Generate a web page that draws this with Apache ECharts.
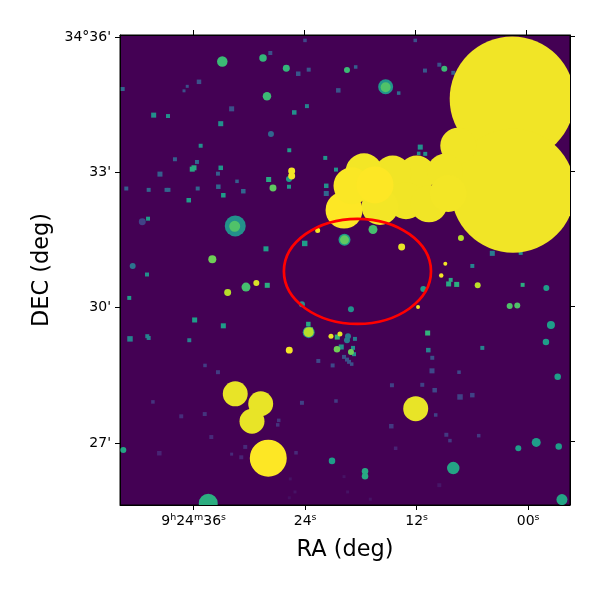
<!DOCTYPE html>
<html>
<head>
<meta charset="utf-8">
<style>html,body{margin:0;padding:0;background:#fff}#c{width:600px;height:600px}</style>
<script src="https://cdn.jsdelivr.net/npm/echarts@6/dist/echarts.min.js"></script>
</head>
<body>
<div id="c"></div>
<script>
// Each source: [RA seconds past 9h24m, Dec arcmin past 34deg, diameter arcsec, level 0..1]
const faintSources = [
[27.64,35.62,5.3,.25],[23.89,35.90,4.7,.22],[24.62,35.16,6,.27],[23.49,35.25,5.3,.27],[35.35,34.98,6,.25],
[36.62,34.88,4,.25],[36.97,34.78,4,.25],[43.60,34.82,5.3,.33],[20.29,34.79,6,.27],[31.82,34.38,6.7,.25],
[27.57,33.82,8,.33],[37.95,33.26,5.3,.3],[35.57,33.2,5.3,.33],[33.30,32.94,5.3,.3],[39.57,32.93,6.7,.3],
[31.24,32.77,4.7,.3],[43.21,32.61,5.3,.3],[40.79,32.58,5.3,.33],[38.86,32.58,5.3,.33],[38.65,32.58,5.3,.33],
[35.49,32.61,5.3,.33],[33.26,32.65,6,.33],[30.56,32.55,6,.33],[21.59,32.50,6.7,.33],[41.48,31.87,9.3,.2],
[42.52,30.89,8,.38],[19.67,28.87,5.3,.25],[19.35,28.81,5.3,.25],[19.13,28.76,5.3,.25],[18.84,28.71,4.7,.25],
[22.45,28.78,5.3,.22],[20.90,28.68,5.3,.22],[34.70,28.68,4.7,.18],[33.30,28.53,5.3,.18],[40.33,27.87,4.7,.15],
[37.27,27.55,5.3,.13],[34.73,27.6,5.3,.15],[34.02,27.09,5.3,.12],[39.64,26.73,6,.1],[31.82,26.71,4,.12],
[30.78,26.64,5.3,.1],[30.35,26.87,5.3,.12],[26.73,27.46,4.7,.15],[26.84,27.36,4.7,.15],[24.86,26.74,4.7,.12],
[24.22,27.85,5.3,.2],[20.54,27.89,4.7,.18],[19.67,26.21,4,.05],[25.48,26.16,4,.05],[24.97,25.87,4,.05],
[25.59,25.74,4,.04],[10.13,28.85,5.3,.25],[10.16,28.56,6.7,.22],[7.24,28.53,4.7,.22],[14.49,28.24,5.3,.2],
[11.21,28.25,5.3,.2],[9.87,28.13,6,.22],[7.13,27.98,7.3,.2],[5.80,28.02,6,.2],[9.76,27.58,4.7,.2],
[14.56,27.33,6,.17],[8.61,27.14,5.3,.17],[8.22,27.01,4.7,.17],[5.11,27.12,4.7,.17],[14.09,26.84,4.7,.1],
[9.37,26.02,5.3,.06],[19.28,25.87,4,.05],[16.83,25.71,4,.05],[18.41,35.31,4.7,.3],[11.97,35.90,4.7,.25],
[13.76,34.73,4.7,.35],[9.37,35.36,5.3,.25],[10.92,35.23,5.3,.28],[7.86,35.18,5.3,.3]
];
const tealSources = [
[23.68,34.44,5.3,.45],[25.05,34.30,6,.5],[40.25,34.24,6.7,.5],[38.70,34.22,5.3,.5],[33.0,34.05,6.7,.5],
[35.17,33.56,5.3,.5],[25.59,33.46,5.3,.55],[21.70,33.29,5.3,.52],[35.89,33.07,6.7,.6],[36.08,33.04,6.7,.6],
[33.0,33.07,6,.52],[20.54,33.03,5.3,.52],[25.62,32.82,8,.55],[27.82,32.81,6.7,.6],[25.62,32.65,5.3,.52],
[32.72,32.46,6,.55],[21.59,32.67,6,.5],[36.46,32.35,6,.55],[40.86,31.94,5.3,.55],[31.43,31.78,28,.5],
[23.92,31.39,7.3,.55],[28.11,31.27,6.7,.55],[19.62,31.47,16,.55],[40.97,30.70,5.3,.5],[42.89,30.18,5.3,.55],
[35.82,29.69,6.7,.55],[32.72,29.56,6.7,.55],[42.81,29.27,7.3,.45],[40.94,29.33,5.3,.45],[40.79,29.29,5.3,.45],
[36.40,29.24,5.3,.45],[24.22,30.04,8,.5],[23.53,29.6,6,.6],[23.49,29.42,16,.5],[19.24,29.33,8,.42],
[19.35,29.24,8,.42],[18.49,29.27,5.3,.42],[19.97,29.09,6.7,.5],[18.70,29.07,5.3,.5],[18.59,28.93,5.3,.5],
[18.92,29.93,8,.5],[43.53,26.8,8,.58],[20.97,26.56,8.7,.55],[34.35,25.62,25.3,.62],[8.14,30.58,5.3,.6],
[8.36,30.49,6.7,.6],[7.49,30.48,6.7,.62],[.36,30.47,5.3,.62],[-2.20,30.4,8,.55],[11.10,30.38,8,.55],
[-2.70,29.58,10.7,.55],[-2.16,29.2,8.7,.55],[4.72,29.07,5.3,.45],[10.56,29.02,6,.45],[-3.43,28.43,8.7,.55],
[.83,26.84,8,.55],[-1.11,26.97,12,.55],[-3.54,26.88,8.7,.55],[7.86,26.4,16.7,.58],[17.40,26.33,8.7,.6],
[17.40,26.22,8.7,.6],[-3.89,25.70,14.7,.58],[15.17,34.87,20,.52],[3.64,31.17,6.7,.42],[.57,31.18,5.3,.5],
[5.80,30.89,5.3,.45],[11.43,33.53,6.7,.5],[11.60,33.39,4.7,.5],[10.89,33.38,5.3,.5]
];
const greenSources = [
[32.83,35.43,14,.68],[28.43,35.51,10,.66],[25.91,35.28,9.3,.66],[19.35,35.24,8,.68],[28.0,34.66,11.3,.68],
[27.35,32.62,9.3,.75],[31.49,31.77,14.7,.72],[33.91,31.04,10.7,.78],[30.27,30.42,12,.7],[27.97,30.46,6.7,.62],
[23.24,29.48,5.3,.75],[20.40,29.31,6.7,.65],[20.43,29.04,8.7,.78],[18.92,28.98,8,.78],[1.76,30.0,8,.72],
[.94,30.01,8,.72],[10.63,29.4,6.7,.65],[15.17,34.86,13.3,.72],[8.83,35.27,8,.68],[16.54,31.70,12,.7],
[19.62,31.47,12,.75]
];
const brightSources = [
[25.33,33.0,9.3,.985],[25.33,32.89,9.3,.985],[22.52,31.68,6.7,.985],[32.25,30.30,9.3,.89],[29.15,30.51,8,.945],
[23.49,29.42,13.3,.89],[21.08,29.33,6.7,.967],[20.11,29.38,6.7,.96],[25.59,29.02,9.3,.985],[9.16,30.68,6,.985],
[5.22,30.46,8,.9],[11.67,29.98,5.3,.985],[7.03,31.51,8,.89],[13.44,31.31,9.3,.967],[8.72,30.94,5.3,.985]
];
const giantSources = [
[31.43,28.05,33.3,.967],[28.68,27.83,33.3,.967],[29.62,27.44,33.3,.967],[27.86,26.62,49.3,1],[11.92,27.72,33.3,.967],
[1.49,34.60,166.7,.981],[1.40,32.56,165.3,.981],[7.32,33.56,48,.981],[11.81,32.93,49.3,.981],[14.41,32.93,49.3,.981],
[8.76,32.98,48,.981],[12.97,32.34,49.3,.981],[10.49,32.27,49.3,.981],[8.40,32.50,49.3,.985],[15.78,32.21,49.3,.985],
[17.51,32.98,49.3,.985],[19.67,32.13,49.3,1],[18.81,32.67,49.3,.995],[16.32,32.69,49.3,1]
];
const footprint = [[18.22, 30.77, 7.95, 1.167]]; // centre RA, Dec, half-width s, half-height arcmin
const raTicks = [36, 24, 12, 0];
const decTicks = [36, 33, 30, 27];
const viridis = ['#440154','#482878','#3e4989','#31688e','#26828e','#1f9e89','#35b779','#6ece58','#b5de2b','#fde725'];
const sources = [...faintSources, ...tealSources, ...greenSources, ...brightSources, ...giantSources];

const pxPerArcsec = 0.75;
const font = 'DejaVu Sans';
const baseAxis = {
  type:'value',
  splitLine:{show:false},
  axisLine:{show:true,onZero:false,lineStyle:{color:'#000',width:1}}
};
const tick = v => ({show:true,length:5,inside:false,customValues:v,lineStyle:{color:'#000',width:1}});
const chart = echarts.init(document.getElementById('c'),null,{renderer:'canvas'});
chart.setOption({
  animation:false,
  grid:{left:120,top:35,width:450,height:470,show:true,backgroundColor:'#440154',borderColor:'#000',borderWidth:1},
  visualMap:{show:false,seriesIndex:0,dimension:3,min:0,max:1,inRange:{color:viridis}},
  xAxis:[
    {...baseAxis,min:-4.51,max:43.93,inverse:true,position:'bottom',axisTick:tick(raTicks),
     name:'RA (deg)',nameLocation:'middle',nameGap:34,nameTextStyle:{fontFamily:font,fontSize:22.4,color:'#000'},
     axisLabel:{show:true,customValues:raTicks,margin:8,fontFamily:font,fontSize:14,color:'#000',
       formatter:v=> v===36 ? '9{s|h}24{s|m}36{s|s}' : (String(v).padStart(2,'0')+'{s|s}'),
       rich:{s:{fontFamily:font,fontSize:9.5,color:'#000',padding:[0,0,6,0]}}}},
    {...baseAxis,min:-4.76,max:43.89,inverse:true,position:'top',axisTick:tick(raTicks),axisLabel:{show:false}}
  ],
  yAxis:[
    {...baseAxis,min:25.623,max:36.044,position:'left',axisTick:tick(decTicks),
     name:'DEC (deg)',nameLocation:'middle',nameGap:66,nameTextStyle:{fontFamily:font,fontSize:22.4,color:'#000'},
     axisLabel:{show:true,customValues:decTicks,margin:9,fontFamily:font,fontSize:14,color:'#000',
       formatter:v=> v===36 ? "34°36'" : v+"'"}},
    {...baseAxis,min:25.58,max:36.02,position:'right',axisTick:tick(decTicks),axisLabel:{show:false}}
  ],
  series:[
    {type:'custom',data:sources,xAxisIndex:1,yAxisIndex:1,encode:{x:0,y:1},clip:true,silent:true,
     renderItem:(p,api)=>{
       const c=api.coord([api.value(0),api.value(1)]);
       const d=api.value(2)*pxPerArcsec;
       const fill=api.visual('color');
       if(d<5.6 && api.value(3)<0.8){
         return {type:'rect',shape:{x:c[0]-d/2,y:c[1]-d/2,width:d,height:d},style:{fill}};
       }
       return {type:'circle',shape:{cx:c[0],cy:c[1],r:d/2},style:{fill}};
     }},
    {type:'custom',data:footprint,xAxisIndex:1,yAxisIndex:1,encode:{x:0,y:1},silent:true,z:5,clip:true,
     renderItem:(p,api)=>{
       const c=api.coord([api.value(0),api.value(1)]);
       const s=api.size([api.value(2),api.value(3)]);
       return {type:'ellipse',shape:{cx:c[0],cy:c[1],rx:s[0],ry:s[1]},
               style:{fill:null,stroke:'#ff0000',lineWidth:2.7}};
     }}
  ]
});
</script>
</body>
</html>
